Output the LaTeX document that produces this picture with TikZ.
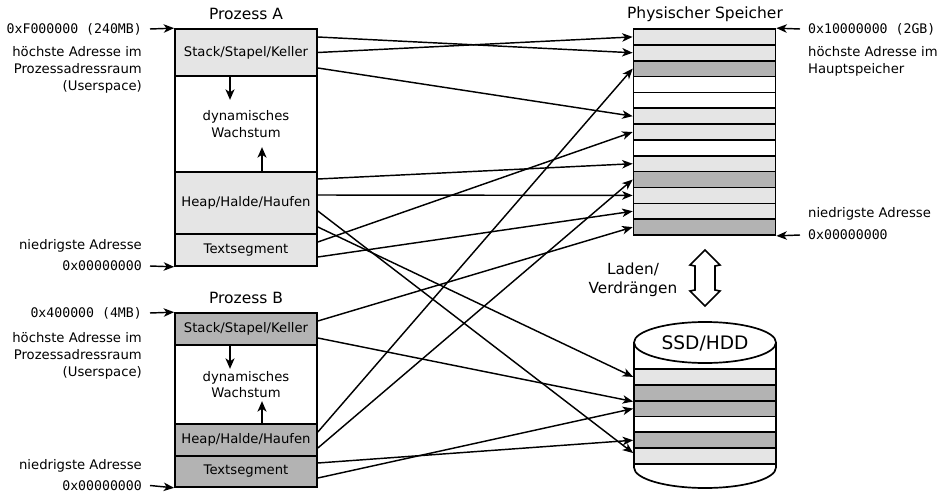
\documentclass[tikz,border=0pt]{standalone}
\usepackage{fontspec}
\setmainfont{DejaVu Sans}
\setmonofont{DejaVu Sans Mono}
\usetikzlibrary{arrows.meta,calc}
\definecolor{lightg}{HTML}{E5E5E5}
\definecolor{darkg}{HTML}{B3B3B3}
\begin{document}
\begin{tikzpicture}[x=1pt,y=-1pt,
  txt/.style={font=\fontsize{13.2}{17}\selectfont, inner sep=0pt},
  mono/.style={font=\ttfamily\fontsize{13.2}{17}\selectfont, inner sep=0pt},
  title/.style={font=\fontsize{15.5}{19}\selectfont, inner sep=0pt},
  seg/.style={draw, line width=1.7pt, minimum width=142pt, inner sep=0pt, font=\fontsize{13.2}{16.5}\selectfont, align=center},
  row/.style={draw, line width=1.7pt, minimum width=142pt, minimum height=15.85pt, inner sep=0pt},
  conn/.style={line width=1.45pt, -{Stealth[length=10.5pt,width=8.5pt,inset=3pt]}},
  growarrow/.style={line width=1.6pt, -{Stealth[length=10.5pt,width=9pt,inset=3pt]}},
]
\useasboundingbox (0,0) rectangle (940,492);

% Prozess A
\node[title] (tA) at (246,14) {Prozess A};
\node[seg, fill=lightg, minimum height=47pt] (Astack) at (246,52.5) {Stack/Stapel/Keller};
\node[seg, minimum height=96pt] (Adyn) at (246,124) {dynamisches\\Wachstum};
\node[seg, fill=lightg, minimum height=62pt] (Aheap) at (246,203) {Heap/Halde/Haufen};
\node[seg, fill=lightg, minimum height=32pt] (Atext) at (246,250) {Textsegment};
\draw[growarrow] ([xshift=-16pt]Astack.south) -- ++(0,23);
\draw[growarrow] ([xshift=16pt]Aheap.north) -- ++(0,-24);

% Prozess B
\node[title] (tB) at (246,298) {Prozess B};
\node[seg, fill=darkg, minimum height=32pt] (Bstack) at (246,329) {Stack/Stapel/Keller};
\node[seg, minimum height=79pt] (Bdyn) at (246,384.5) {dynamisches\\Wachstum};
\node[seg, fill=darkg, minimum height=32pt] (Bheap) at (246,440) {Heap/Halde/Haufen};
\node[seg, fill=darkg, minimum height=31pt] (Btext) at (246,471.5) {Textsegment};
\draw[growarrow] ([xshift=-16pt]Bstack.south) -- ++(0,23);
\draw[growarrow] ([xshift=16pt]Bheap.north) -- ++(0,-22);

% left labels A
\node[mono, anchor=east] (Ahi) at (142,29) {0xF000000 (240MB)};
\draw[conn] ([xshift=8pt]Ahi.east) -- (Astack.north west);
\node[txt, anchor=east, align=right] (Adesc) at (142,69.5) {höchste Adresse im\\Prozessadressraum\\(Userspace)};
\node[txt, anchor=east] (Alow) at (142,246) {niedrigste Adresse};
\node[mono, anchor=east] (Azero) at (142,266) {0x00000000};
\draw[conn] ([xshift=8pt]Azero.east) -- (Atext.south west);

% left labels B
\node[mono, anchor=east] (Bhi) at (142,313) {0x400000 (4MB)};
\draw[conn] ([xshift=8pt]Bhi.east) -- (Bstack.north west);
\node[txt, anchor=east, align=right] (Bdesc) at (142,355.5) {höchste Adresse im\\Prozessadressraum\\(Userspace)};
\node[txt, anchor=east] (Blow) at (142,466) {niedrigste Adresse};
\node[mono, anchor=east] (Bzero) at (142,485.5) {0x00000000};
\draw[conn] ([xshift=8pt]Bzero.east) -- (Btext.south west);

% Physical memory
\node[title] (tP) at (705,14) {Physischer Speicher};
\foreach \i/\c in {1/lightg,2/lightg,3/darkg,4/white,5/white,6/lightg,7/lightg,8/white,9/lightg,10/darkg,11/lightg,12/lightg,13/darkg}
  \node[row, fill=\c] (p\i) at (704.5,{29+(\i-0.5)*15.85}) {};
\node[mono, anchor=west] (Phi) at (808,29) {0x10000000 (2GB)};
\draw[conn] ([xshift=-8pt]Phi.west) -- (p1.north east);
\node[txt, anchor=west, align=left] (Pdesc) at (808,61) {höchste Adresse im\\Hauptspeicher};
\node[txt, anchor=west] (Plow) at (808,214) {niedrigste Adresse};
\node[mono, anchor=west] (Pzero) at (808,235) {0x00000000};
\draw[conn] ([xshift=-8pt]Pzero.west) -- (p13.south east);

% Laden / Verdraengen
\node[inner sep=0pt, align=center, font=\fontsize{15.3}{19}\selectfont] (laden) at (633,280) {Laden/\\Verdrängen};
\draw[line width=1.6pt, fill=white, line join=miter] (705,250) -- (720,265) -- (715,266) -- (715,290) -- (720,291) -- (705,306) -- (690,291) -- (695,290) -- (695,266) -- (690,265) -- cycle;

% Disk
\draw[line width=1.7pt, fill=white] (634,342.5) -- (634,467.5) arc[start angle=180,end angle=360,x radius=71pt,y radius=20.5pt] -- (776,342.5);
\draw[line width=1.7pt, fill=white] (705,342.5) ellipse[x radius=71pt, y radius=20.5pt];
\node[inner sep=0pt, font=\fontsize{18.6}{22}\selectfont] (ssd) at (705,343) {SSD/HDD};
\foreach \i/\c in {1/lightg,2/darkg,3/darkg,4/white,5/darkg,6/lightg}
  \node[row, fill=\c, minimum height=15.83pt] (d\i) at (705,{369+(\i-0.5)*15.83}) {};

% connectors
\draw[conn] ([yshift=15.5pt]Astack.east) -- (p2.west);
\draw[conn] (Astack.east) -- (p1.west);
\draw[conn] ([yshift=-15.5pt]Astack.east) -- (p6.west);
\draw[conn] ([yshift=24pt]Aheap.east) -- (p9.west);
\draw[conn] ([yshift=8pt]Aheap.east) -- (p11.west);
\draw[conn] ([yshift=-8pt]Aheap.east) -- ([yshift=3pt]d6.west);
\draw[conn] ([yshift=-24pt]Aheap.east) -- (d1.west);
\draw[conn] ([yshift=8pt]Atext.east) -- (p7.west);
\draw[conn] ([yshift=-7pt]Atext.east) -- (p12.west);
\draw[conn] ([yshift=8pt]Bstack.east) -- (p13.west);
\draw[conn] ([yshift=-9pt]Bstack.east) -- (d2.south west);
\draw[conn] ([yshift=8pt]Bheap.east) -- (p3.west);
\draw[conn] ([yshift=-8pt]Bheap.east) -- (p10.west);
\draw[conn] ([yshift=8.5pt]Btext.east) -- (d5.west);
\draw[conn] ([yshift=-6.5pt]Btext.east) -- (d3.west);
\end{tikzpicture}
\end{document}
